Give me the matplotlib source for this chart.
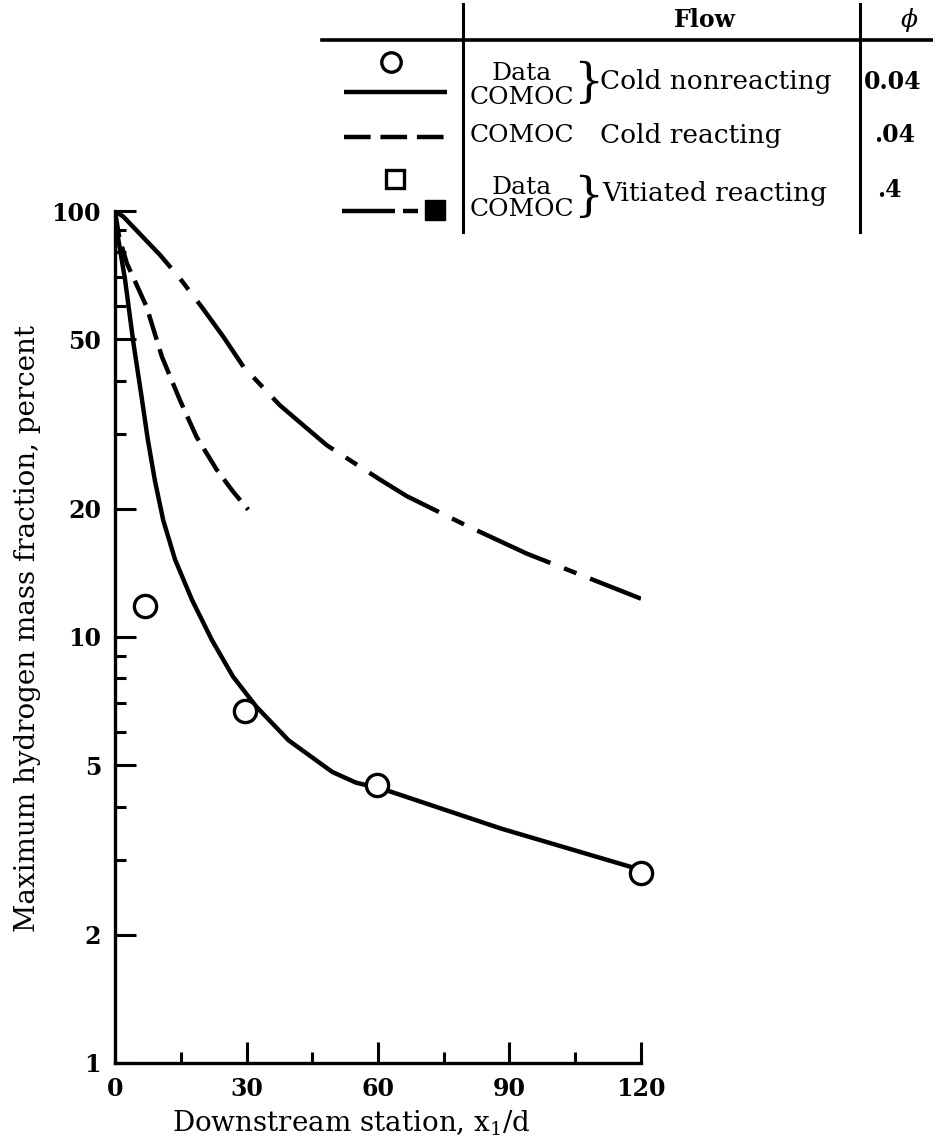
import matplotlib
matplotlib.use("Agg")
import matplotlib.pyplot as plt
from matplotlib.ticker import FixedLocator, FixedFormatter, NullFormatter

plt.rcParams.update({"font.family": "DejaVu Serif", "mathtext.fontset": "dejavuserif"})

# cold nonreacting, measured (open circles)
data_x = [6.8, 29.7, 59.7, 120]
data_y = [11.8, 6.7, 4.5, 2.8]

# COMOC, cold nonreacting (solid)
cold_x = [0, 0.4, 2.3, 4.2, 6.0, 7.5, 9.1, 11.0, 13.7, 17.6, 22.1, 26.9, 32.2, 39.6, 49.6, 55.0, 61.0, 88.1, 120]
cold_y = [100, 90.2, 68.9, 49.0, 37.0, 29.0, 23.3, 18.8, 15.2, 12.2, 9.84, 8.08, 6.87, 5.72, 4.82, 4.55, 4.40, 3.55, 2.84]

# COMOC, cold reacting (short dashes)
react_x = [0, 1.0, 2.7, 7.2, 10.7, 14.8, 18.6, 23.2, 27.0, 30.4]
react_y = [100, 86.3, 75.4, 59.6, 45.5, 36.0, 29.5, 24.7, 21.9, 19.9]

# COMOC, vitiated reacting (long-short dashes)
vit_x = [0, 1.9, 10.3, 14.8, 19.8, 24.7, 29.3, 37.6, 48.3, 60.5, 66.6, 80.0, 93.9, 120]
vit_y = [100, 97, 78.8, 69.5, 59.5, 50.7, 43.1, 35.0, 28.2, 23.4, 21.4, 18.3, 15.7, 12.3]

y_major = [1, 2, 5, 10, 20, 50, 100]
y_minor = [3, 4, 6, 7, 8, 9, 30, 40, 60, 70, 80, 90]
x_major = [0, 30, 60, 90, 120]
x_minor = [15, 45, 75, 105]

LW = 3.2
DASH = (0, (6.0, 2.2))
LONGSHORT = (0, (18.0, 3.3, 3.0, 3.3))

fig = plt.figure(figsize=(9.33, 11.45), dpi=100)
ax = fig.add_axes([115 / 933, 82 / 1145, 526 / 933, 852 / 1145])

ax.plot(cold_x, cold_y, color="k", lw=LW, solid_capstyle="butt", solid_joinstyle="round", zorder=3)
ax.plot(react_x, react_y, color="k", lw=LW, ls=DASH, dash_capstyle="butt", zorder=3)
ax.plot(vit_x, vit_y, color="k", lw=LW, ls=LONGSHORT, dash_capstyle="butt", zorder=3)
ax.plot(data_x, data_y, "o", ms=16, mfc="white", mec="k", mew=2.4, zorder=4, clip_on=False)

ax.set_yscale("log")
ax.set_xlim(0, 120)
ax.set_ylim(1, 100)
ax.yaxis.set_major_locator(FixedLocator(y_major))
ax.yaxis.set_major_formatter(FixedFormatter([str(v) for v in y_major]))
ax.yaxis.set_minor_locator(FixedLocator(y_minor))
ax.yaxis.set_minor_formatter(NullFormatter())
ax.xaxis.set_major_locator(FixedLocator(x_major))
ax.xaxis.set_minor_locator(FixedLocator(x_minor))

for s in ["top", "right"]:
    ax.spines[s].set_visible(False)
for s in ["left", "bottom"]:
    ax.spines[s].set_linewidth(2.4)
ax.tick_params(which="major", direction="in", length=15, width=2.2, labelsize=17, pad=10)
ax.tick_params(which="minor", direction="in", length=8, width=2.2)
for lab in ax.get_xticklabels() + ax.get_yticklabels():
    lab.set_fontweight("bold")

ax.set_xlabel(r"Downstream station, x$_1$/d", fontsize=20)
ax.xaxis.set_label_coords(0.449, -0.053)
ax.set_ylabel("Maximum hydrogen mass fraction, percent", fontsize=20)
ax.yaxis.set_label_coords(-0.14, 0.51)

# key table drawn in pixel coordinates on a full-figure overlay
k = fig.add_axes([0, 0, 1, 1], zorder=5)
k.set_xlim(0, 933); k.set_ylim(1145, 0); k.axis("off")
k.plot([322, 933], [40, 40], color="k", lw=2.6)
k.plot([463, 463], [4, 232], color="k", lw=2.2)
k.plot([860, 860], [4, 232], color="k", lw=2.2)

k.text(705, 20, "Flow", fontsize=17, fontweight="bold", ha="center", va="center")
k.text(909, 20, r"$\phi$", fontsize=18, ha="center", va="center")

# row 1
k.plot([391], [62], "o", ms=14, mfc="white", mec="k", mew=2.4)
k.plot([344, 447], [92, 92], color="k", lw=LW, solid_capstyle="butt")
k.text(522, 74, "Data", fontsize=18, ha="center", va="center")
k.text(522, 98, "COMOC", fontsize=18, ha="center", va="center")
k.text(588, 83, "}", fontsize=34, ha="center", va="center")
k.text(600, 82, "Cold nonreacting", fontsize=19, ha="left", va="center")
k.text(864, 82, "0.04", fontsize=17, fontweight="bold", ha="left", va="center")

# row 2
k.plot([344, 447], [137, 137], color="k", lw=LW, ls=DASH, dash_capstyle="butt")
k.text(470, 135, "COMOC", fontsize=18, ha="left", va="center")
k.text(600, 135, "Cold reacting", fontsize=19, ha="left", va="center")
k.text(874, 135, ".04", fontsize=17, fontweight="bold", ha="left", va="center")

# row 3
k.plot([395], [179], "s", ms=13, mfc="white", mec="k", mew=2.4)
k.plot([342, 395], [211, 211], color="k", lw=LW, solid_capstyle="butt")
k.plot([403, 418], [211, 211], color="k", lw=LW, solid_capstyle="butt")
k.plot([435], [210], "s", ms=15, color="k")
k.text(522, 188, "Data", fontsize=18, ha="center", va="center")
k.text(522, 210, "COMOC", fontsize=18, ha="center", va="center")
k.text(588, 197, "}", fontsize=34, ha="center", va="center")
k.text(602, 193, "Vitiated reacting", fontsize=19, ha="left", va="center")
k.text(877, 190, ".4", fontsize=17, fontweight="bold", ha="left", va="center")

fig.savefig("out.png", dpi=100, facecolor="white")
